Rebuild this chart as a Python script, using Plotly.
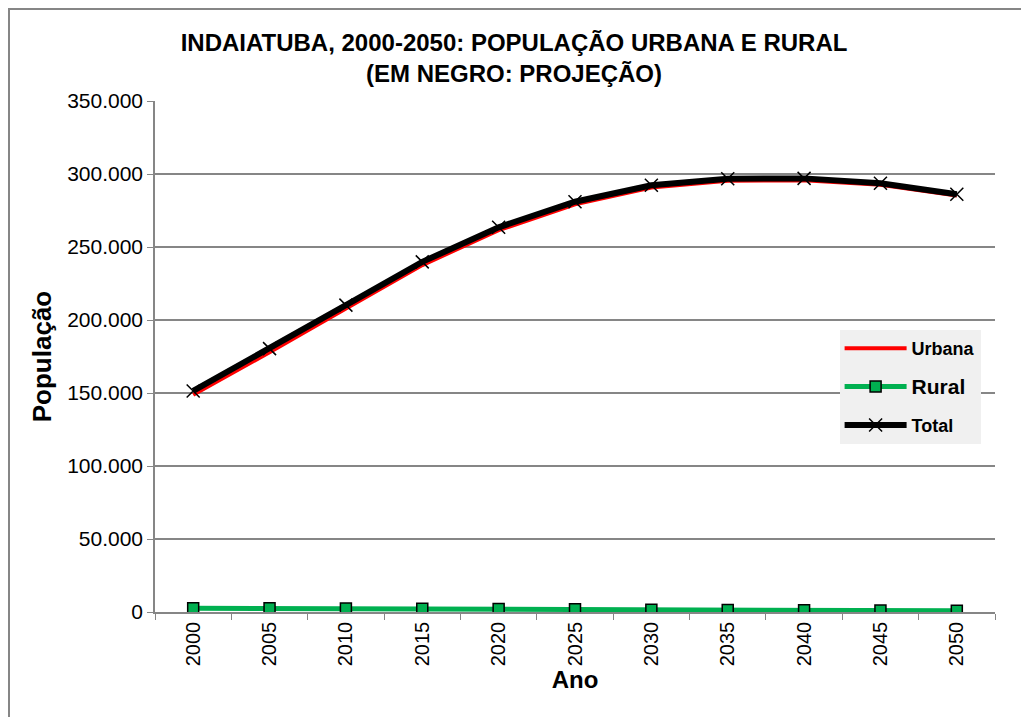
import plotly.graph_objects as go

# Data
anos = ['2000', '2005', '2010', '2015', '2020', '2025', '2030', '2035', '2040', '2045', '2050']
total = [151400, 180400, 210200, 239800, 263500, 281000, 292300, 296800, 297000, 293600, 286100]
rural = [2600, 2500, 2400, 2200, 2000, 1800, 1600, 1400, 1200, 1000, 800]
urbana = [t - r for t, r in zip(total, rural)]

fig = go.Figure()

fig.add_trace(go.Scatter(
    x=anos, y=urbana, name='Urbana', mode='lines', legendgroup='u',
    line=dict(color='#FF0000', width=4)
))
fig.add_trace(go.Scatter(
    x=anos, y=rural, name='<span style="font-size:21px">Rural</span>',
    mode='lines+markers', legendgroup='r',
    line=dict(color='#00B050', width=5),
    marker=dict(symbol='square', size=11, color='#00B050',
                line=dict(color='black', width=1.5))
))
fig.add_trace(go.Scatter(
    x=anos, y=total, name='Total', mode='lines+markers', legendgroup='t',
    line=dict(color='black', width=6),
    marker=dict(symbol='x-thin', size=13, color='black',
                line=dict(color='black', width=1.5))
))

# the page body adds an 8px margin, so the figure is 8px smaller than the window
fig.update_layout(
    width=1021, height=709,
    margin=dict(l=147, r=34, t=93, b=105),
    paper_bgcolor='white',
    plot_bgcolor='white',
    separators=',.',
    font=dict(family='Liberation Sans, Arial', color='black'),
    title=dict(
        text='<b>INDAIATUBA, 2000-2050: POPULAÇÃO URBANA E RURAL<br>(EM NEGRO: PROJEÇÃO)</b>',
        font=dict(size=24),
        x=(514 - 8) / 1021, xref='container', xanchor='center',
        y=1 - 43 / 709, yref='container', yanchor='top'
    ),
    legend=dict(
        x=0.815, y=0.552, xanchor='left', yanchor='top',
        bgcolor='#F0F0F0',
        font=dict(size=18, weight='bold'),
        tracegroupgap=12,
        itemwidth=62
    ),
    showlegend=True
)

fig.update_xaxes(
    type='category',
    range=[-0.5, 10.5],
    tickson='boundaries',
    ticks='outside', ticklen=6, tickcolor='#868686',
    tickangle=-90,
    tickfont=dict(size=20),
    showline=True, linecolor='#868686', linewidth=1.5,
    showgrid=False,
    title=dict(text='<b>Ano</b>', font=dict(size=24), standoff=4)
)
fig.update_yaxes(
    range=[0, 350000],
    dtick=50000,
    tickformat=',d',
    ticks='outside', ticklen=6, tickcolor='#868686',
    tickfont=dict(size=21),
    showline=True, linecolor='#868686', linewidth=1.5,
    showgrid=True, gridcolor='#868686', gridwidth=1.5,
    zeroline=False,
    title=dict(text='<b>População</b>', font=dict(size=26), standoff=8)
)

# Outer chart border (left and top edges visible)
fig.add_shape(type='rect', xref='paper', yref='paper',
              x0=(1 - 147) / 840, x1=1 + 50 / 840,
              y0=-(105 + 20) / 511, y1=1 + (93 - 1) / 511,
              line=dict(color='#868686', width=2), layer='below')

fig.write_html('out.html')
